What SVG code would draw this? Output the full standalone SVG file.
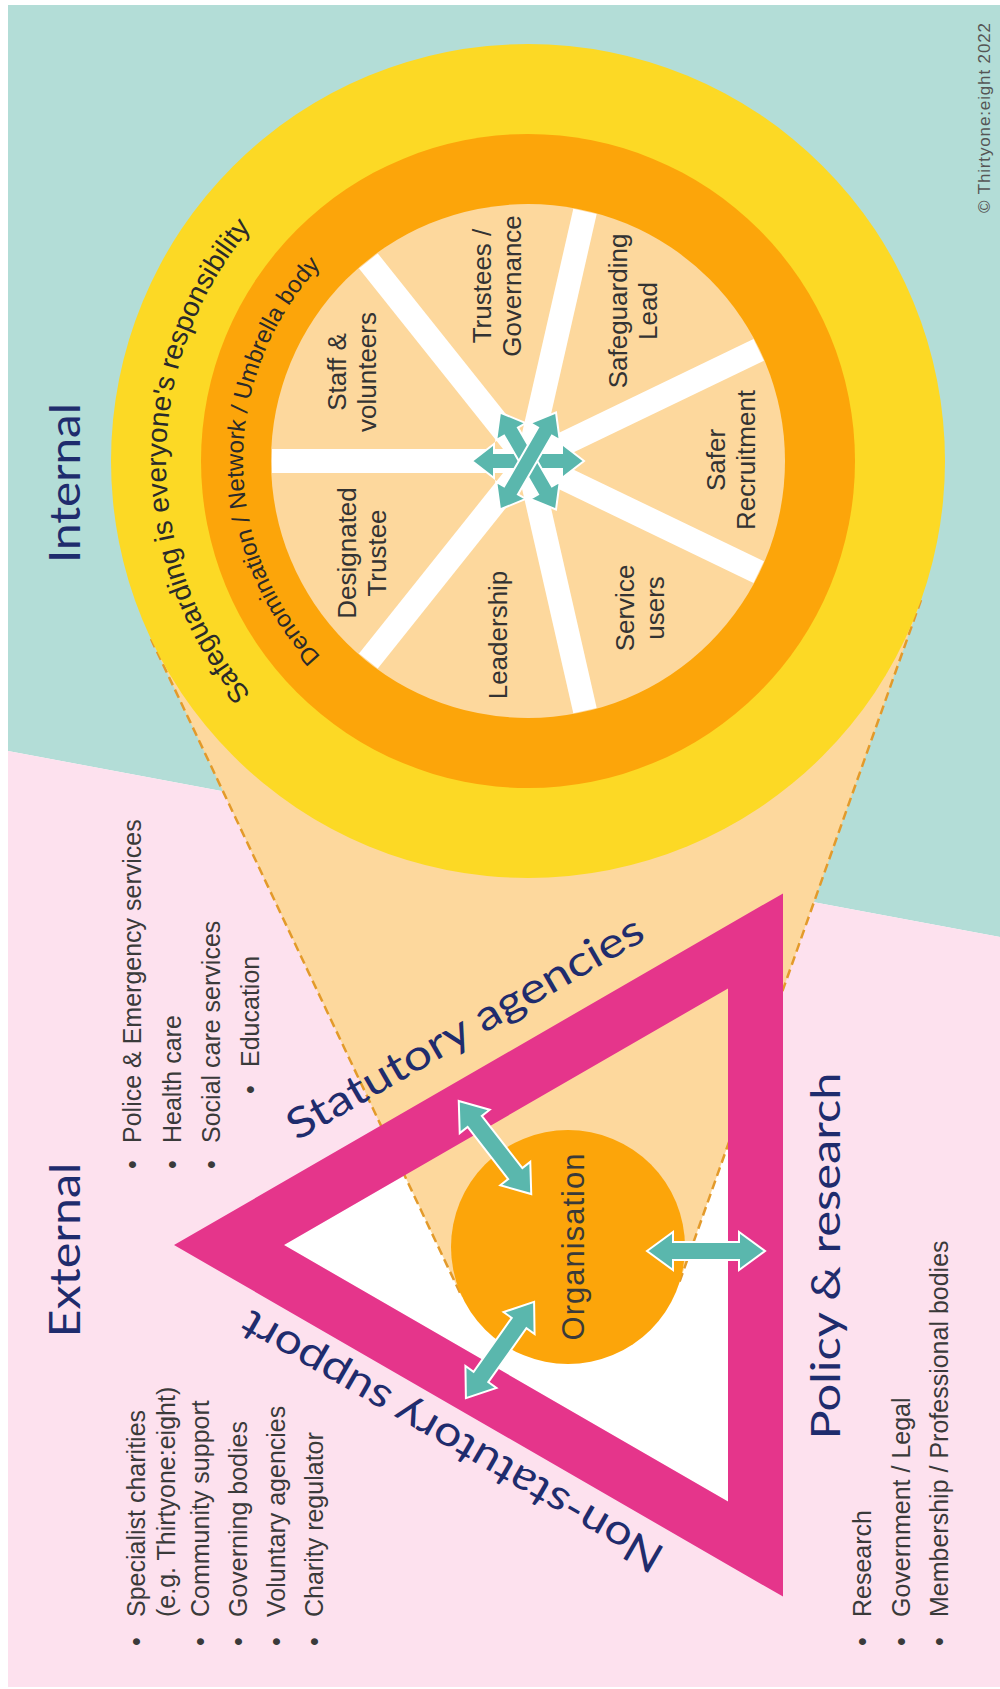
<svg xmlns="http://www.w3.org/2000/svg" width="1000" height="1689" viewBox="0 0 1000 1689">
<defs>
<style>
.lbl{font-family:'Liberation Sans',Arial,sans-serif;font-size:26px;fill:#333333;text-anchor:middle}
.lst{font-family:'Liberation Sans',Arial,sans-serif;font-size:25px;fill:#3a3a3a}
.head{font-family:Lato,'Liberation Sans',sans-serif;fill:#1f2c6d;text-anchor:middle}
.arc{font-family:'Liberation Sans',Arial,sans-serif;fill:#2a2a2a;text-anchor:middle}
.spoke{stroke:#ffffff;stroke-width:24}
.dash{stroke:#e39a2a;stroke-width:2.5;stroke-dasharray:9 5;fill:none}
.arr{fill:#5ab7ad;stroke:#ffffff;stroke-width:2}
</style>
<path id="dbl" d="M-59 0 L-33 -19 L-33 -9 L33 -9 L33 -19 L59 0 L33 19 L33 9 L-33 9 L-33 19 Z"/>
<path id="dblS" d="M-56 0 L-34 -17 L-34 -8 L34 -8 L34 -17 L56 0 L34 17 L34 8 L-34 8 L-34 17 Z"/>
<path id="arcOuter" d="M528 823 A362 362 0 0 1 528 99"/>
<path id="arcInner" d="M528 746 A285 285 0 0 1 528 176"/>
</defs>

<g id="background">
<rect width="1000" height="1689" fill="#ffffff"/>
<polygon points="8,5 1000,5 1000,937 8,751" fill="#b3ddd7"/>
<polygon points="8,751 1000,937 1000,1687 8,1687" fill="#fde1ee"/>
</g>

<g id="cone">
<polygon points="284,1245 728,988.5 728,1501.5" fill="#ffffff"/>
<polygon points="151,639 921,600 678,1286 462,1297" fill="#fdd89d"/>
<line class="dash" x1="151" y1="639" x2="462" y2="1297"/>
<line class="dash" x1="921" y1="600" x2="678" y2="1286"/>
</g>

<g id="triangle">
<path d="M174 1245 L783 893.4 L783 1596.6 Z M284 1245 L728 1501.5 L728 988.5 Z" fill="#e5358b" fill-rule="evenodd"/>
</g>

<g id="wheel">
<circle cx="528" cy="461" r="417" fill="#fcd925"/>
<circle cx="528" cy="461" r="327" fill="#fca50a"/>
<circle cx="528" cy="461" r="257" fill="#fdd89d"/>
<g class="spoke">
<line x1="528" y1="461" x2="272" y2="461"/>
<line x1="528" y1="461" x2="368.4" y2="260.9"/>
<line x1="528" y1="461" x2="585" y2="211.4"/>
<line x1="528" y1="461" x2="758.7" y2="349.9"/>
<line x1="528" y1="461" x2="758.7" y2="572.1"/>
<line x1="528" y1="461" x2="585" y2="710.6"/>
<line x1="528" y1="461" x2="368.4" y2="661.1"/>
</g>
<text class="arc" font-size="28"><textPath href="#arcOuter" startOffset="50%">Safeguarding is everyone's responsibility</textPath></text>
<text class="arc" font-size="24"><textPath href="#arcInner" startOffset="50%">Denomination / Network / Umbrella body</textPath></text>
</g>

<g id="hub">
<use href="#dblS" class="arr" transform="translate(528 461)"/>
<use href="#dblS" class="arr" transform="translate(528 461) rotate(60)"/>
<use href="#dblS" class="arr" transform="translate(528 461) rotate(120)"/>
</g>

<g id="seg-staff"><text class="lbl" transform="translate(352 372) rotate(-90)"><tspan x="0" y="-6">Staff &amp;</tspan><tspan x="0" y="24">volunteers</tspan></text></g>
<g id="seg-trustees"><text class="lbl" transform="translate(497 286) rotate(-90)"><tspan x="0" y="-6">Trustees /</tspan><tspan x="0" y="24">Governance</tspan></text></g>
<g id="seg-lead"><text class="lbl" transform="translate(633 311) rotate(-90)"><tspan x="0" y="-6">Safeguarding</tspan><tspan x="0" y="24">Lead</tspan></text></g>
<g id="seg-recruit"><text class="lbl" transform="translate(731 460) rotate(-90)"><tspan x="0" y="-6">Safer</tspan><tspan x="0" y="24">Recruitment</tspan></text></g>
<g id="seg-users"><text class="lbl" transform="translate(640 608) rotate(-90)"><tspan x="0" y="-6">Service</tspan><tspan x="0" y="24">users</tspan></text></g>
<g id="seg-leadership"><text class="lbl" transform="translate(498 635) rotate(-90)"><tspan x="0" y="9">Leadership</tspan></text></g>
<g id="seg-designated"><text class="lbl" transform="translate(362 553) rotate(-90)"><tspan x="0" y="-6">Designated</tspan><tspan x="0" y="24">Trustee</tspan></text></g>

<g id="organisation">
<circle cx="568" cy="1247" r="117" fill="#fca50a"/>
<text transform="translate(584 1247) rotate(-90)" text-anchor="middle" font-family="'Liberation Sans',Arial,sans-serif" font-size="31" fill="#3a3a3a" textLength="187">Organisation</text>
</g>

<g id="connectors">
<use href="#dbl" class="arr" transform="translate(495 1147.5) rotate(52.1)"/>
<use href="#dbl" class="arr" transform="translate(706 1251)"/>
<use href="#dbl" class="arr" transform="translate(500 1350) rotate(-54.7)"/>
</g>

<g id="headings">
<text class="head" font-size="42" transform="translate(80 483) rotate(-90)" textLength="160" lengthAdjust="spacingAndGlyphs">Internal</text>
<text class="head" font-size="42" transform="translate(80 1250) rotate(-90)" textLength="175" lengthAdjust="spacingAndGlyphs">External</text>
<text class="head" font-size="40" transform="translate(840 1256) rotate(-90)" textLength="367" lengthAdjust="spacingAndGlyphs">Policy &amp; research</text>
<text class="head" font-size="42" transform="translate(472 1040) rotate(-30)" textLength="405" lengthAdjust="spacingAndGlyphs">Statutory agencies</text>
<text class="head" font-size="42" transform="translate(459 1429) rotate(210)" textLength="480" lengthAdjust="spacingAndGlyphs">Non-statutory support</text>
</g>

<g id="list-statutory">
<text class="lst" transform="translate(141 1143) rotate(-90)"><tspan x="-26">•</tspan><tspan x="0">Police &amp; Emergency services</tspan></text>
<text class="lst" transform="translate(181 1143) rotate(-90)"><tspan x="-26">•</tspan><tspan x="0">Health care</tspan></text>
<text class="lst" transform="translate(220 1143) rotate(-90)"><tspan x="-26">•</tspan><tspan x="0">Social care services</tspan></text>
<text class="lst" transform="translate(259 1067) rotate(-90)"><tspan x="-27">•</tspan><tspan x="0">Education</tspan></text>
</g>

<g id="list-nonstatutory">
<text class="lst" transform="translate(145 1617) rotate(-90)"><tspan x="-29">•</tspan><tspan x="0">Specialist charities</tspan></text>
<text class="lst" transform="translate(175 1617) rotate(-90)">(e.g. Thirtyone:eight)</text>
<text class="lst" transform="translate(209 1617) rotate(-90)"><tspan x="-29">•</tspan><tspan x="0">Community support</tspan></text>
<text class="lst" transform="translate(247 1617) rotate(-90)"><tspan x="-29">•</tspan><tspan x="0">Governing bodies</tspan></text>
<text class="lst" transform="translate(285 1617) rotate(-90)"><tspan x="-29">•</tspan><tspan x="0">Voluntary agencies</tspan></text>
<text class="lst" transform="translate(323 1617) rotate(-90)"><tspan x="-29">•</tspan><tspan x="0">Charity regulator</tspan></text>
</g>

<g id="list-policy">
<text class="lst" transform="translate(871 1617) rotate(-90)"><tspan x="-29">•</tspan><tspan x="0">Research</tspan></text>
<text class="lst" transform="translate(910 1617) rotate(-90)"><tspan x="-29">•</tspan><tspan x="0">Government / Legal</tspan></text>
<text class="lst" transform="translate(948 1617) rotate(-90)"><tspan x="-29">•</tspan><tspan x="0">Membership / Professional bodies</tspan></text>
</g>

<text transform="translate(990 118) rotate(-90)" text-anchor="middle" font-family="'Liberation Sans',Arial,sans-serif" font-size="17" fill="#555555" textLength="190">© Thirtyone:eight 2022</text>
</svg>
